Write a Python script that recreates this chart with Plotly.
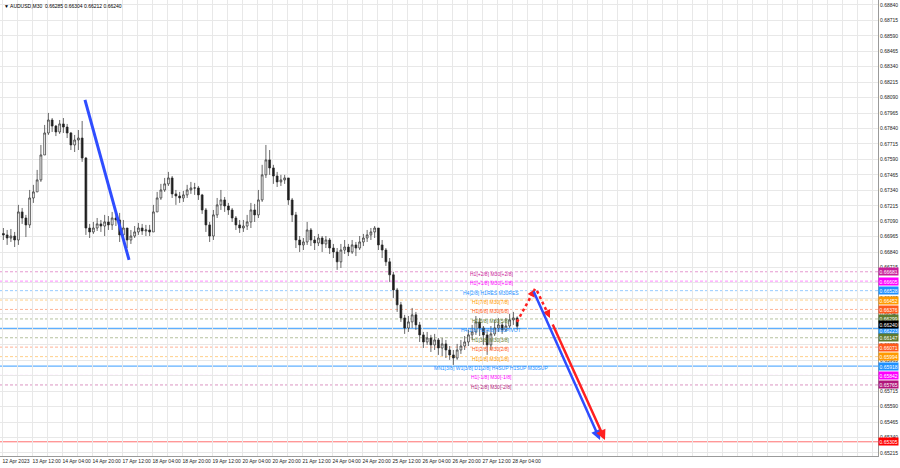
import plotly.graph_objects as go

# ---------------- data ----------------
symbol_title = "AUDUSD,M30"
last_ohlc = [0.66285, 0.66304, 0.66212, 0.66240]

x_labels = ["12 Apr 2023", "13 Apr 12:00", "14 Apr 04:00", "14 Apr 20:00", "17 Apr 12:00",
            "18 Apr 04:00", "18 Apr 20:00", "19 Apr 12:00", "20 Apr 04:00", "20 Apr 20:00",
            "21 Apr 12:00", "24 Apr 04:00", "24 Apr 20:00", "25 Apr 12:00", "26 Apr 04:00",
            "26 Apr 20:00", "27 Apr 12:00", "28 Apr 04:00"]
label_step = 32          # M30 bars between time labels
bars_per_candle = 4      # each drawn candle = 2 hours (4 x M30)

first_open = 0.66990
closes = [
    0.66979, 0.66954, 0.66970, 0.66938, 0.67165, 0.67116, 0.67060, 0.67278, 0.67327, 0.67424,
    0.67626, 0.67804, 0.67909, 0.67860, 0.67812, 0.67877, 0.67852, 0.67804, 0.67707, 0.67747,
    0.67763, 0.67601, 0.67035, 0.67003, 0.67035, 0.67068, 0.67051, 0.67084, 0.67060, 0.67116,
    0.67100, 0.66979, 0.67035, 0.66938, 0.66970, 0.67003, 0.67035, 0.67011, 0.67019, 0.67003,
    0.67165, 0.67278, 0.67343, 0.67392, 0.67440, 0.67311, 0.67294, 0.67278, 0.67303, 0.67343,
    0.67359, 0.67359, 0.67303, 0.67181, 0.67060, 0.66970, 0.67141, 0.67222, 0.67262, 0.67213,
    0.67181, 0.67116, 0.67060, 0.67035, 0.67051, 0.67084, 0.67181, 0.67141, 0.67262, 0.67465,
    0.67586, 0.67521, 0.67456, 0.67408, 0.67424, 0.67440, 0.67262, 0.67141, 0.66938, 0.66898,
    0.66922, 0.67019, 0.66938, 0.66914, 0.66954, 0.66906, 0.66938, 0.66873, 0.66841, 0.66761,
    0.66857, 0.66881, 0.66841, 0.66898, 0.66873, 0.66922, 0.66954, 0.66979, 0.67003, 0.67035,
    0.66898, 0.66857, 0.66761, 0.66656, 0.66534, 0.66413, 0.66307, 0.66226, 0.66275, 0.66332,
    0.66251, 0.66170, 0.66113, 0.66145, 0.66089, 0.66129, 0.66064, 0.66097, 0.66048, 0.66008,
    0.65983, 0.66048, 0.66080, 0.66113, 0.66170, 0.66194, 0.66275, 0.66226, 0.66170, 0.66089,
    0.66178, 0.66226, 0.66251, 0.66210, 0.66242, 0.66291, 0.66307, 0.66240]
highs = [
    0.67035, 0.67019, 0.67027, 0.67003, 0.67222, 0.67197, 0.67141, 0.67343, 0.67384, 0.67505,
    0.67707, 0.67869, 0.67966, 0.67925, 0.67869, 0.67909, 0.67925, 0.67877, 0.67812, 0.67788,
    0.67828, 0.67901, 0.67610, 0.67068, 0.67084, 0.67116, 0.67100, 0.67141, 0.67132, 0.67165,
    0.67173, 0.67157, 0.67100, 0.67035, 0.67019, 0.67051, 0.67076, 0.67068, 0.67060, 0.67060,
    0.67222, 0.67327, 0.67392, 0.67440, 0.67489, 0.67456, 0.67343, 0.67327, 0.67335, 0.67384,
    0.67408, 0.67400, 0.67375, 0.67311, 0.67197, 0.67084, 0.67181, 0.67278, 0.67343, 0.67286,
    0.67238, 0.67197, 0.67132, 0.67100, 0.67100, 0.67141, 0.67238, 0.67230, 0.67343, 0.67546,
    0.67707, 0.67666, 0.67546, 0.67489, 0.67465, 0.67465, 0.67440, 0.67278, 0.67165, 0.66970,
    0.66954, 0.67084, 0.67035, 0.66970, 0.66987, 0.66970, 0.66970, 0.66954, 0.66906, 0.66873,
    0.66906, 0.66938, 0.66906, 0.66938, 0.66922, 0.66970, 0.66987, 0.67019, 0.67035, 0.67051,
    0.67035, 0.66938, 0.66873, 0.66792, 0.66680, 0.66550, 0.66437, 0.66332, 0.66323, 0.66388,
    0.66356, 0.66275, 0.66194, 0.66194, 0.66170, 0.66178, 0.66145, 0.66145, 0.66129, 0.66080,
    0.66048, 0.66097, 0.66129, 0.66161, 0.66210, 0.66251, 0.66323, 0.66307, 0.66242, 0.66210,
    0.66242, 0.66291, 0.66307, 0.66275, 0.66307, 0.66340, 0.66356, 0.66320]
lows = [
    0.66938, 0.66898, 0.66922, 0.66881, 0.66898, 0.67068, 0.66962, 0.67035, 0.67238, 0.67327,
    0.67408, 0.67666, 0.67788, 0.67812, 0.67779, 0.67796, 0.67804, 0.67763, 0.67666, 0.67650,
    0.67666, 0.67570, 0.66979, 0.66954, 0.66987, 0.67011, 0.67003, 0.66970, 0.67019, 0.67019,
    0.67051, 0.66922, 0.66938, 0.66873, 0.66906, 0.66954, 0.66979, 0.66979, 0.66970, 0.66970,
    0.67019, 0.67165, 0.67262, 0.67327, 0.67375, 0.67278, 0.67222, 0.67238, 0.67246, 0.67278,
    0.67311, 0.67303, 0.67262, 0.67149, 0.67003, 0.66922, 0.66938, 0.67116, 0.67181, 0.67165,
    0.67141, 0.67084, 0.67019, 0.66995, 0.67003, 0.67019, 0.67035, 0.67084, 0.67116, 0.67246,
    0.67440, 0.67465, 0.67392, 0.67367, 0.67375, 0.67392, 0.67222, 0.67084, 0.66873, 0.66841,
    0.66857, 0.66898, 0.66889, 0.66857, 0.66889, 0.66841, 0.66873, 0.66825, 0.66792, 0.66696,
    0.66712, 0.66825, 0.66808, 0.66825, 0.66808, 0.66857, 0.66889, 0.66922, 0.66938, 0.66954,
    0.66857, 0.66792, 0.66728, 0.66599, 0.66469, 0.66356, 0.66275, 0.66178, 0.66194, 0.66226,
    0.66210, 0.66113, 0.66064, 0.66089, 0.66032, 0.66048, 0.66008, 0.65999, 0.65983, 0.65968,
    0.65927, 0.65968, 0.66016, 0.66048, 0.66080, 0.66129, 0.66170, 0.66161, 0.66089, 0.66008,
    0.66048, 0.66161, 0.66194, 0.66178, 0.66194, 0.66226, 0.66251, 0.66212]

y_ticks = [0.68840, 0.68715, 0.68590, 0.68465, 0.68340, 0.68215, 0.68090, 0.67965, 0.67840,
           0.67715, 0.67590, 0.67465, 0.67340, 0.67215, 0.67090, 0.66965, 0.66840, 0.66715,
           0.66590, 0.66465, 0.66340, 0.66215, 0.66090, 0.65965, 0.65840, 0.65715, 0.65590,
           0.65465, 0.65340, 0.65215]

levels = [0.66681, 0.66605, 0.66528, 0.66452, 0.66376, 0.66299, 0.66223,
          0.66147, 0.66071, 0.65994, 0.65918, 0.65842, 0.65765]
level_names = ["H1[+2/8] M30[+2/8]", "H1[+1/8] M30[+1/8]", "H4[2/8] H1RES M30RES",
               "H1[7/8] M30[7/8]", "H1[6/8] M30[6/8]", "H1[5/8] M30[5/8]",
               "H4[1/8] H1[4/8] M30PIVOT", "H1[3/8] M30[3/8]", "H1[2/8] M30[2/8]",
               "H1[1/8] M30[1/8]", "MN1[3/8] W1[3/8] D1[2/8] H4SUP H1SUP M30SUP",
               "H1[-1/8] M30[-1/8]", "H1[-2/8] M30[-2/8]"]
level_colors = ["#c8209a", "#ff00ff", "#1e90ff", "#ff9a00", "#ff5a1a", "#5f7a2e", "#1e90ff",
                "#5f7a2e", "#ff5a1a", "#ff9a00", "#1e90ff", "#ff00ff", "#b0177a"]
level_solid = [False, False, False, False, False, False, True,
               False, False, False, True, False, False]
label_x = 522            # M30 bar index of the level captions

current_price = 0.66240
target_price = 0.65305

trend_x = [88.5, 135.5]
trend_y = [0.68071, 0.66777]

# projection arrows: [tail_x, tail_y, head_x, head_y]
red_dot_up = [549.3, 0.66275, 568.5, 0.66542]
red_dot_down = [570.7, 0.66526, 584.5, 0.66307]
blue_arrow = [566.4, 0.66534, 637.9, 0.65320]
red_arrow = [586.7, 0.66267, 643.2, 0.65320]

# ---------------- figure ----------------
FONT = "Liberation Sans"
n = len(closes)
opens = [first_open] + closes[:-1]
bar_x = [bars_per_candle * i + 1.5 for i in range(n)]
hi = [max(h, o, c) for h, o, c in zip(highs, opens, closes)]
lo = [min(l, o, c) for l, o, c in zip(lows, opens, closes)]

fig = go.Figure()
fig.add_trace(go.Candlestick(
    x=bar_x, open=opens, high=hi, low=lo, close=closes,
    increasing=dict(line=dict(color="#2a2a2a", width=0.7), fillcolor="#ffffff"),
    decreasing=dict(line=dict(color="#2a2a2a", width=0.7), fillcolor="#1a1a1a"),
    whiskerwidth=0, showlegend=False, hoverinfo="skip"))

# level lines
for lv, col, solid in zip(levels, level_colors, level_solid):
    fig.add_shape(type="line", xref="paper", x0=0, x1=1, yref="y", y0=lv, y1=lv,
                  line=dict(color=col, width=1.3 if solid else 1,
                            dash="solid" if solid else "3px,2px"),
                  opacity=0.7 if solid else 0.45, layer="below")
fig.add_shape(type="line", xref="paper", x0=0, x1=1, yref="y", y0=target_price, y1=target_price,
              line=dict(color="#ff6f6f", width=1), layer="below")

# level captions
for lv, name, col in zip(levels, level_names, level_colors):
    fig.add_annotation(x=label_x, y=lv, xref="x", yref="y", text=name, showarrow=False,
                       font=dict(family=FONT, size=5, color=col), yshift=-2)

# trend line
fig.add_trace(go.Scatter(x=trend_x, y=trend_y, mode="lines",
                         line=dict(color="#2f4dff", width=3), showlegend=False, hoverinfo="skip"))

# dotted red arrows
for tx, ty, hx, hy in [red_dot_up, red_dot_down]:
    fig.add_trace(go.Scatter(x=[tx, hx], y=[ty, hy], mode="lines",
                             line=dict(color="#ff2020", width=2.5, dash="dot"),
                             showlegend=False, hoverinfo="skip"))
    fig.add_annotation(x=hx, y=hy, ax=hx - 0.25 * (hx - tx), ay=hy - 0.25 * (hy - ty),
                       xref="x", yref="y", axref="x", ayref="y", text="", showarrow=True,
                       arrowhead=2, arrowsize=0.8, arrowwidth=2, arrowcolor="#ff2020")

# solid projection arrows
for (tx, ty, hx, hy), col in [(blue_arrow, "#2f4dff"), (red_arrow, "#ff2020")]:
    fig.add_annotation(x=hx, y=hy, ax=tx, ay=ty, xref="x", yref="y", axref="x", ayref="y",
                       text="", showarrow=True, arrowhead=2, arrowsize=0.8, arrowwidth=2.5,
                       arrowcolor=col)

# price boxes on the right axis
box_items = list(zip(levels, level_colors)) + [(target_price, "#ff0000"), (current_price, "#000000")]
for val, col in box_items:
    shift = 0
    if val == current_price:
        shift = 2
    elif val == levels[6]:
        shift = -2
    fig.add_annotation(x=1, y=val, xref="paper", yref="y", xanchor="left", text=f"{val:.5f}",
                       showarrow=False, bgcolor=col, borderpad=0.5, yshift=shift,
                       font=dict(family=FONT, size=5, color="#ffffff"))

# title
fig.add_annotation(x=0, y=1, xref="paper", yref="paper", xanchor="left", yanchor="top",
                   xshift=2, yshift=-1, showarrow=False,
                   text="▼ " + symbol_title + "  " + " ".join(f"{v:.5f}" for v in last_ohlc),
                   font=dict(family=FONT, size=5, color="#000000"))

# axes
x_right = 934.4
tickvals = list(range(0, int(x_right) + 1, label_step // 2))
ticktext = []
for k, tv in enumerate(tickvals):
    if k % 2 == 0 and k // 2 < len(x_labels):
        ticktext.append(x_labels[k // 2])
    else:
        ticktext.append("")

fig.update_layout(
    template="none", width=900, height=468,
    margin=dict(l=0, r=22, t=0, b=12, pad=0),
    paper_bgcolor="#ffffff", plot_bgcolor="#ffffff",
    font=dict(family=FONT, size=5, color="#222222"),
    showlegend=False,
    xaxis=dict(range=[-2.13, x_right], tickvals=tickvals, ticktext=ticktext,
               ticklabelposition="outside right", ticks="", tickangle=0, showgrid=True,
               gridcolor="#e8e8e8", gridwidth=1, zeroline=False, showline=True,
               linecolor="#9a9a9a", linewidth=1, mirror=True, automargin=False,
               rangeslider=dict(visible=False), tickfont=dict(size=5, family=FONT, color="#222")),
    yaxis=dict(range=[0.65190, 0.68880], side="right", tickvals=y_ticks,
               ticktext=[f"{v:.5f}" for v in y_ticks], ticks="", showgrid=True,
               gridcolor="#e8e8e8", gridwidth=1, zeroline=False, showline=True,
               linecolor="#9a9a9a", linewidth=1, mirror=True, automargin=False,
               tickfont=dict(size=5, family=FONT, color="#222")),
)

fig.write_html("out.html", config={"displayModeBar": False},
               post_script="document.body.style.margin='0px';document.body.style.overflow='hidden';")
